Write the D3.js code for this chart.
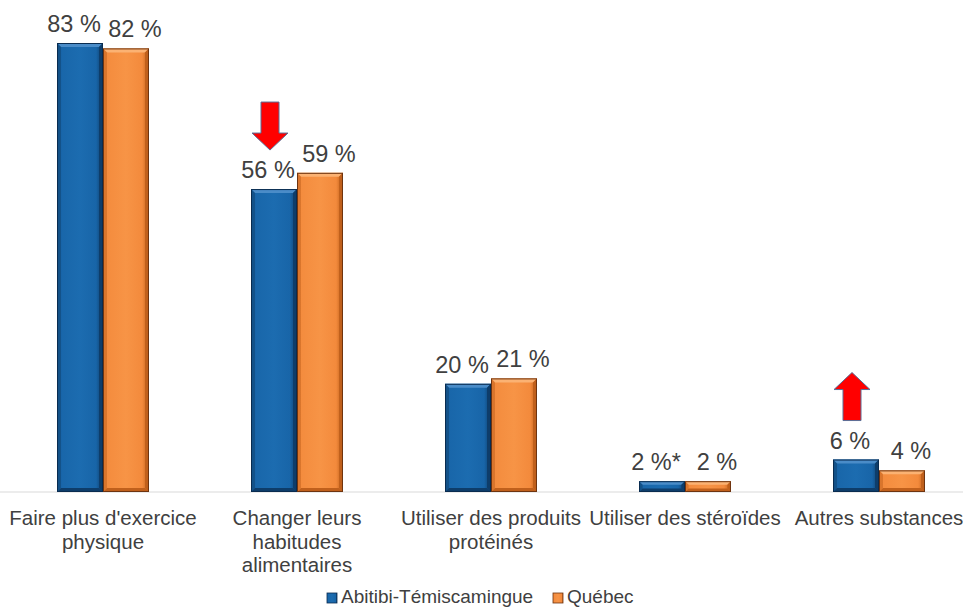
<!DOCTYPE html>
<html>
<head>
<meta charset="utf-8">
<script src="https://cdn.jsdelivr.net/npm/d3@7"></script>
<style>
  body { margin: 0; background: #fff; }
  text { font-family: "Liberation Sans", Arial, sans-serif; fill: #404040; }
</style>
</head>
<body>
<div id="chart"></div>
<script>
// categories (one entry per line of the axis label)
var categories = [
  ["Faire plus d'exercice", "physique"],
  ["Changer leurs", "habitudes", "alimentaires"],
  ["Utiliser des produits", "protéinés"],
  ["Utiliser des stéroïdes"],
  ["Autres substances"]
];
var series = ["Abitibi-Témiscamingue", "Québec"];
var abitibi = [83, 56, 20, 2, 6];
var quebec = [82, 59, 21, 2, 4];
var abitibiLabels = ["83 %", "56 %", "20 %", "2 %*", "6 %"];
var quebecLabels = ["82 %", "59 %", "21 %", "2 %", "4 %"];
// significant differences: -1 lower, +1 higher than Québec
var arrows = [0, -1, 0, 0, 1];

var width = 963, height = 607;
var colors = {
  "Abitibi-Témiscamingue": {base: "#1865a8", mid: "#1c6cb0", light: "#4a8cc8", dark: "#0e3d6a", edge: "#0a2c50"},
  "Québec": {base: "#f38a3c", mid: "#f79446", light: "#fbb273", dark: "#c0601c", edge: "#6e3410"}
};

var svg = d3.select("#chart").append("svg")
    .attr("width", width)
    .attr("height", height);

var defs = svg.append("defs");
series.forEach(function(s, k) {
  var c = colors[s];
  var g = defs.append("linearGradient")
      .attr("id", "grad" + k)
      .attr("x1", "0").attr("x2", "1").attr("y1", "0").attr("y2", "0");
  g.append("stop").attr("offset", "0").attr("stop-color", c.base);
  g.append("stop").attr("offset", "0.5").attr("stop-color", c.mid);
  g.append("stop").attr("offset", "0.85").attr("stop-color", c.base);
  g.append("stop").attr("offset", "1").attr("stop-color", c.dark);
});

var x0 = d3.scaleBand()
    .domain(d3.range(categories.length))
    .range([6, 976])
    .paddingInner(0.526)
    .paddingOuter(0.263);

var x1 = d3.scaleBand()
    .domain(series)
    .range([0, x0.bandwidth()]);

var y = d3.scaleLinear()
    .domain([0, 83])
    .range([492, 43]);

// baseline
svg.append("line")
    .attr("x1", 0).attr("x2", width)
    .attr("y1", y(0)).attr("y2", y(0))
    .style("stroke", "#d9d9d9")
    .style("stroke-width", 1);

var rows = [];
categories.forEach(function(c, i) {
  rows.push({i: i, s: series[0], k: 0, v: abitibi[i], label: abitibiLabels[i], shift: -6});
  rows.push({i: i, s: series[1], k: 1, v: quebec[i], label: quebecLabels[i], shift: 9});
});

// bevelled bars
function bevel(g, d) {
  var c = colors[d.s];
  var bx = x0(d.i) + x1(d.s), bw = x1.bandwidth();
  var by = y(d.v), bh = y(0) - y(d.v);
  var b = Math.min(4, bh / 3);
  g.append("rect")
      .attr("x", bx).attr("y", by)
      .attr("width", bw).attr("height", bh)
      .style("fill", "url(#grad" + d.k + ")");
  // top face
  g.append("path")
      .attr("d", "M" + bx + "," + by + "h" + bw + "l" + (-b) + "," + b + "h" + (-(bw - 2 * b)) + "Z")
      .style("fill", c.light);
  // left face
  g.append("path")
      .attr("d", "M" + bx + "," + by + "l" + b + "," + b + "v" + (bh - 2 * b) + "l" + (-b) + "," + b + "Z")
      .style("fill", c.dark).style("opacity", 0.5);
  // right face
  g.append("path")
      .attr("d", "M" + (bx + bw) + "," + by + "l" + (-b) + "," + b + "v" + (bh - 2 * b) + "l" + b + "," + b + "Z")
      .style("fill", c.dark);
  // bottom face
  g.append("path")
      .attr("d", "M" + bx + "," + (by + bh) + "l" + b + "," + (-b) + "h" + (bw - 2 * b) + "l" + b + "," + b + "Z")
      .style("fill", c.dark);
  g.append("rect")
      .attr("x", bx + 0.5).attr("y", by + 0.5)
      .attr("width", bw - 1).attr("height", Math.max(0, bh - 1))
      .style("fill", "none")
      .style("stroke", c.edge)
      .style("stroke-width", 1);
}

svg.selectAll(".bar")
    .data(rows)
  .enter().append("g")
    .attr("class", "bar")
    .each(function(d) { bevel(d3.select(this), d); });

// value labels
svg.selectAll(".val")
    .data(rows)
  .enter().append("text")
    .attr("class", "val")
    .attr("x", function(d) { return x0(d.i) + x1(d.s) + x1.bandwidth() / 2 + d.shift; })
    .attr("y", function(d) { return y(d.v) - 11; })
    .style("text-anchor", "middle")
    .style("font-size", "23.5px")
    .text(function(d) { return d.label; });

// category labels
var cat = svg.selectAll(".cat")
    .data(categories)
  .enter().append("text")
    .attr("class", "cat")
    .attr("x", function(d, i) { return x0(i) + x0.bandwidth() / 2; })
    .attr("y", 525)
    .style("text-anchor", "middle")
    .style("font-size", "20.5px");
cat.selectAll("tspan")
    .data(function(d) { return d; })
  .enter().append("tspan")
    .attr("x", function() { return d3.select(this.parentNode).attr("x"); })
    .attr("dy", function(d, j) { return j ? 23.5 : 0; })
    .text(function(d) { return d; });

// red arrows for significant differences
var arrowData = [];
arrows.forEach(function(a, i) { if (a) arrowData.push({i: i, dir: a}); });

svg.selectAll(".arrow")
    .data(arrowData)
  .enter().append("path")
    .attr("class", "arrow")
    .attr("d", function(d) {
      var cx = x0(d.i) + x1(series[0]) + x1.bandwidth() / 2 - 4;
      var bottom = y(abitibi[d.i]) - 39;
      var top = bottom - 48;
      var sw = 9, hw = 18, hh = 17;
      if (d.dir < 0) {
        return "M" + (cx - sw) + "," + top + "h" + (2 * sw) + "V" + (bottom - hh) +
          "h" + (hw - sw) + "L" + cx + "," + bottom + "L" + (cx - hw) + "," + (bottom - hh) +
          "h" + (hw - sw) + "Z";
      }
      return "M" + (cx - sw) + "," + bottom + "h" + (2 * sw) + "V" + (top + hh) +
        "h" + (hw - sw) + "L" + cx + "," + top + "L" + (cx - hw) + "," + (top + hh) +
        "h" + (hw - sw) + "Z";
    })
    .style("fill", "#ff0000")
    .style("stroke", "#5a6e96")
    .style("stroke-width", 1);

// legend
var legendX = [327, 553];
var legend = svg.selectAll(".legend")
    .data(series)
  .enter().append("g")
    .attr("class", "legend")
    .attr("transform", function(d, i) { return "translate(" + legendX[i] + ",593)"; });

legend.append("rect")
    .attr("width", 10).attr("height", 10)
    .style("fill", function(d, k) { return "url(#grad" + k + ")"; })
    .style("stroke", function(d) { return colors[d].edge; })
    .style("stroke-width", 0.8);

legend.append("text")
    .attr("x", 14)
    .attr("y", 10)
    .style("font-size", "19px")
    .text(function(d) { return d; });
</script>
</body>
</html>
